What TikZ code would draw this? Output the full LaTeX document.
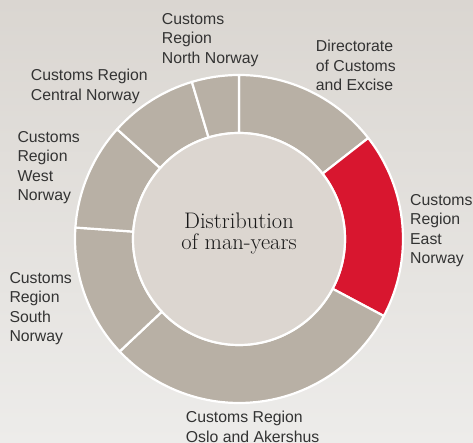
\documentclass[tikz,border=0pt]{standalone}
\usepackage{fontspec}
\setsansfont{Liberation Sans}
\definecolor{bgtop}{HTML}{DAD6D1}
\definecolor{bgbot}{HTML}{EDECEA}
\definecolor{seggray}{HTML}{B8B0A5}
\definecolor{segred}{HTML}{D8162F}
\definecolor{innerfill}{HTML}{DCD6D0}
\definecolor{labeltext}{HTML}{333333}
\begin{document}
\begin{tikzpicture}[x=1pt,y=1pt,
  seg/.style={fill=seggray,draw=white,line width=2.2pt,line join=round},
  segr/.style={seg,fill=segred},
  lab/.style={anchor=north west,inner sep=0pt,align=left,text=labeltext,
    font=\sffamily\fontsize{15.8}{19.5}\selectfont},
  centre/.style={anchor=north,inner sep=0pt,align=center,text=black!90,
    font=\fontsize{22.5}{20.7}\selectfont}]
\shade[top color=bgtop,bottom color=bgbot] (0,0) rectangle (473,443);
\useasboundingbox (0,0) rectangle (473,443);
\coordinate (c) at (239,204);
\begin{scope}[shift={(c)}]
  \def\Ro{164}\def\Ri{106}
  \draw[seg]  (38:\Ri) -- (38:\Ro) arc[start angle=38,end angle=90,radius=\Ro] -- (90:\Ri) arc[start angle=90,end angle=38,radius=\Ri] -- cycle;
  \draw[segr] (-28:\Ri) -- (-28:\Ro) arc[start angle=-28,end angle=38,radius=\Ro] -- (38:\Ri) arc[start angle=38,end angle=-28,radius=\Ri] -- cycle;
  \draw[seg]  (223.3:\Ri) -- (223.3:\Ro) arc[start angle=223.3,end angle=332,radius=\Ro] -- (332:\Ri) arc[start angle=332,end angle=223.3,radius=\Ri] -- cycle;
  \draw[seg]  (176:\Ri) -- (176:\Ro) arc[start angle=176,end angle=223.3,radius=\Ro] -- (223.3:\Ri) arc[start angle=223.3,end angle=176,radius=\Ri] -- cycle;
  \draw[seg]  (138:\Ri) -- (138:\Ro) arc[start angle=138,end angle=176,radius=\Ro] -- (176:\Ri) arc[start angle=176,end angle=138,radius=\Ri] -- cycle;
  \draw[seg]  (106.7:\Ri) -- (106.7:\Ro) arc[start angle=106.7,end angle=138,radius=\Ro] -- (138:\Ri) arc[start angle=138,end angle=106.7,radius=\Ri] -- cycle;
  \draw[seg]  (90:\Ri) -- (90:\Ro) arc[start angle=90,end angle=106.7,radius=\Ro] -- (106.7:\Ri) arc[start angle=106.7,end angle=90,radius=\Ri] -- cycle;
  \draw[fill=innerfill,draw=white,line width=2.2pt] (0,0) circle[radius=\Ri];
\end{scope}
\node[centre] (title) at (239,230.5) {Distribution\\of man-years};
\node[lab] (north) at (161.7,429.8) {Customs\\Region\\North Norway};
\node[lab] (dir) at (315.7,403.1) {Directorate\\of Customs\\and Excise};
\node[lab] (central) at (30.7,373.8) {Customs Region\\Central Norway};
\node[lab] (west) at (17.3,311.8) {Customs\\Region\\West\\Norway};
\node[lab] (east) at (410,249.1) {Customs\\Region\\East\\Norway};
\node[lab] (south) at (9.3,170.8) {Customs\\Region\\South\\Norway};
\node[lab] (oslo) at (185.7,31.8) {Customs Region\\Oslo and Akershus};
\end{tikzpicture}
\end{document}
